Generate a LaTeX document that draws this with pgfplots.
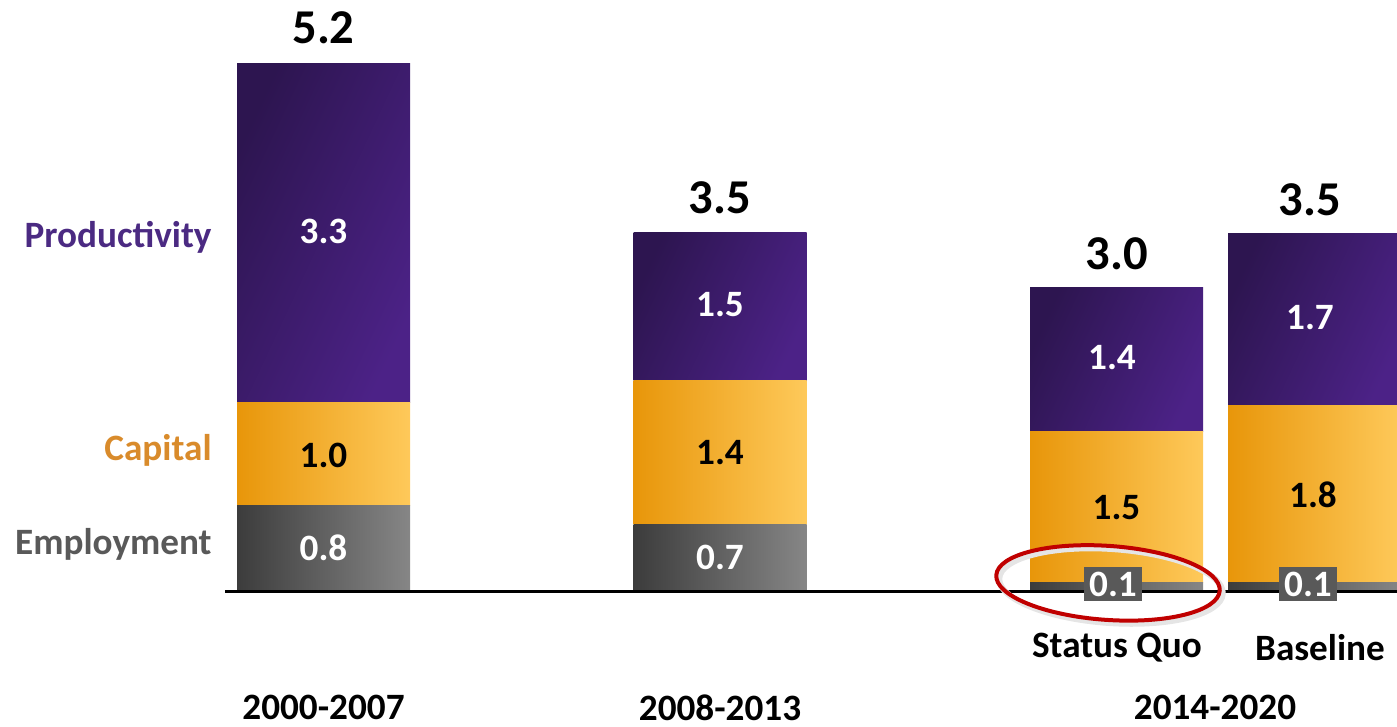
\documentclass[border=0pt]{standalone}
\usepackage{pgfplots}
\pgfplotsset{compat=1.18}
\usepackage{fontspec}
\setmainfont{Carlito}
\definecolor{purpD}{HTML}{2D1550}
\definecolor{purpL}{HTML}{4C2287}
\definecolor{orD}{HTML}{E8960A}
\definecolor{orL}{HTML}{FEC95A}
\definecolor{grD}{HTML}{3C3C3C}
\definecolor{grL}{HTML}{868686}
\definecolor{boxg}{HTML}{595959}
\definecolor{txtP}{HTML}{4B2A82}
\definecolor{txtC}{HTML}{D98B2B}
\definecolor{txtE}{HTML}{595959}
\definecolor{redc}{HTML}{C00000}
\newcommand\lab{\fontsize{18.6}{21}\selectfont\bfseries}
\newcommand\tot{\fontsize{24.3}{28}\selectfont\bfseries}
\pgfplotsset{
  base/.style={x=0.5pt, y=50.75pt, xmin=0, xmax=1397, ymin=-1.330, ymax=5.823,
    axis lines=none, at={(0,0)}, anchor=south west},
  barax/.style={base, ybar stacked, bar width=173, clip=true},
  emp/.style={draw=none, left color=grD, right color=grL},
  cap/.style={draw=none, left color=orD, right color=orL},
  pro/.style={draw=none, top color=purpD, bottom color=purpL, shading angle=65},
}
\begin{document}
\begin{tikzpicture}
% 2000-2007
\begin{axis}[barax, name=ax]
\addplot[emp] coordinates {(323.5,0.84)};
\addplot[cap] coordinates {(323.5,1.02)};
\addplot[pro] coordinates {(323.5,3.34)};
\end{axis}
% 2008-2013
\begin{axis}[barax]
\addplot[emp] coordinates {(720,0.66)};
\addplot[cap] coordinates {(720,1.41)};
\addplot[pro] coordinates {(720,1.46)};
\end{axis}
% 2014-2020 Status Quo
\begin{axis}[barax]
\addplot[emp] coordinates {(1116.5,0.08)};
\addplot[cap] coordinates {(1116.5,1.49)};
\addplot[pro] coordinates {(1116.5,1.42)};
\end{axis}
% 2014-2020 Baseline
\begin{axis}[barax]
\addplot[emp] coordinates {(1314.5,0.08)};
\addplot[cap] coordinates {(1314.5,1.75)};
\addplot[pro] coordinates {(1314.5,1.69)};
\end{axis}
\begin{axis}[base, clip=false]
\draw[black, line width=1.5pt] (axis cs:225,0) -- (axis cs:1397,0);
% totals
\node[font=\tot] at (axis cs:323.5,5.547) {5.2};
\node[font=\tot] at (axis cs:720,3.872) {3.5};
\node[font=\tot] at (axis cs:1116.5,3.320) {3.0};
\node[font=\tot] at (axis cs:1310,3.852) {3.5};
% segment labels
\node[font=\lab, text=white] at (axis cs:323.5,3.547) {3.3};
\node[font=\lab, text=black] at (axis cs:323.5,1.340) {1.0};
\node[font=\lab, text=white] at (axis cs:323.5,0.424) {0.8};
\node[font=\lab, text=white] at (axis cs:720,2.818) {1.5};
\node[font=\lab, text=black] at (axis cs:720,1.360) {1.4};
\node[font=\lab, text=white] at (axis cs:720,0.335) {0.7};
\node[font=\lab, text=white] at (axis cs:1112,2.305) {1.4};
\node[font=\lab, text=black] at (axis cs:1116.5,0.818) {1.5};
\node[font=\lab, text=white] at (axis cs:1310,2.690) {1.7};
\node[font=\lab, text=black] at (axis cs:1313,0.946) {1.8};
% ellipse
\draw[black!10, line width=3pt, rotate around={-4:(axis cs:1110,0.05)}] (axis cs:1111,0.05) ellipse [x radius=56pt, y radius=18.5pt];
\draw[redc, line width=2pt, rotate around={-4:(axis cs:1108,0.08)}] (axis cs:1108,0.08) ellipse [x radius=56pt, y radius=18.5pt];
\node[font=\lab, text=white, fill=boxg, inner xsep=2.5pt, inner ysep=2.2pt] at (axis cs:1113,0.069) {0.1};
\node[font=\lab, text=white, fill=boxg, inner xsep=2.5pt, inner ysep=2.2pt] at (axis cs:1308,0.069) {0.1};
% left labels
\node[font=\lab, text=txtP, anchor=east, inner sep=0pt] at (axis cs:212,3.488) {Productivity};
\node[font=\lab, text=txtC, anchor=east, inner sep=0pt] at (axis cs:212,1.389) {Capital};
\node[font=\lab, text=txtE, anchor=east, inner sep=0pt] at (axis cs:212,0.463) {Employment};
% categories
\node[font=\lab] at (axis cs:1117,-0.562) {Status Quo};
\node[font=\lab] at (axis cs:1320,-0.562) {Baseline};
\node[font=\lab] at (axis cs:323.5,-1.150) {2000-2007};
\node[font=\lab] at (axis cs:720,-1.150) {2008-2013};
\node[font=\lab] at (axis cs:1215,-1.150) {2014-2020};
\end{axis}
\pgfresetboundingbox
\path[use as bounding box] (ax.south west) rectangle (ax.north east);
\end{tikzpicture}
\end{document}
